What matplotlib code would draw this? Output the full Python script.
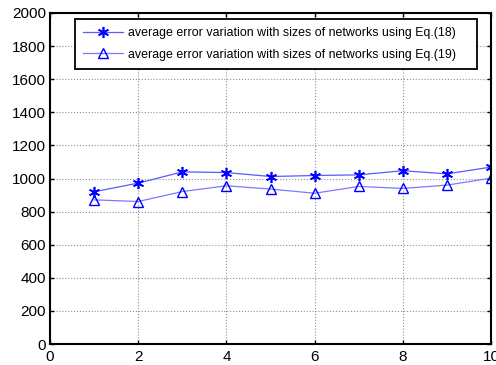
import matplotlib
matplotlib.use("Agg")
import matplotlib.pyplot as plt

plt.rcParams['font.family'] = ['Liberation Sans', 'DejaVu Sans']

# network size index
sizes = [1, 2, 3, 4, 5, 6, 7, 8, 9, 10]
# average error, Eq.(18) and Eq.(19)
err_eq18 = [920, 972, 1040, 1036, 1012, 1018, 1022, 1047, 1028, 1069]
err_eq19 = [871, 861, 921, 956, 936, 911, 952, 940, 960, 1002]

fig = plt.figure(figsize=(4.96, 3.65), dpi=100)
ax = fig.add_axes([50 / 496, 1 - 344 / 365, 441 / 496, 331 / 365])

# asterisk-style marker for Eq.(18)
ax.plot(sizes, err_eq18, color='#5a5aff', lw=0.9, marker=(6, 2, 0), markersize=8,
        markeredgecolor='blue', markeredgewidth=1.2,
        label='average error variation with sizes of networks using Eq.(18)')
ax.plot(sizes, err_eq19, color='#7a7aff', lw=0.9, marker='^', markersize=7.5,
        markerfacecolor='none', markeredgecolor='blue', markeredgewidth=1.0,
        label='average error variation with sizes of networks using Eq.(19)')

ax.set_xlim(0, 10)
ax.set_ylim(0, 2000)
ax.set_xticks(range(0, 11, 2))
ax.set_yticks(range(0, 2001, 200))
ax.tick_params(direction='in', top=True, right=True, labelsize=11, length=3,
               width=1)
ax.tick_params(axis='x', pad=4)
ax.tick_params(axis='y', pad=3)
ax.grid(True, color='#909090', linestyle=':', linewidth=0.8)
for s in ax.spines.values():
    s.set_linewidth(1.5)

leg = ax.legend(loc='upper left',
                bbox_to_anchor=(25 / 441, 1 - 6 / 331, 402 / 441, 0),
                mode='expand',
                fontsize=8.9, fancybox=False, framealpha=1, edgecolor='black',
                borderaxespad=0, handlelength=3.2, handletextpad=0.45,
                borderpad=0.65, labelspacing=0.78)
leg.get_frame().set_linewidth(1.3)

fig.savefig('out.png', dpi=100)
